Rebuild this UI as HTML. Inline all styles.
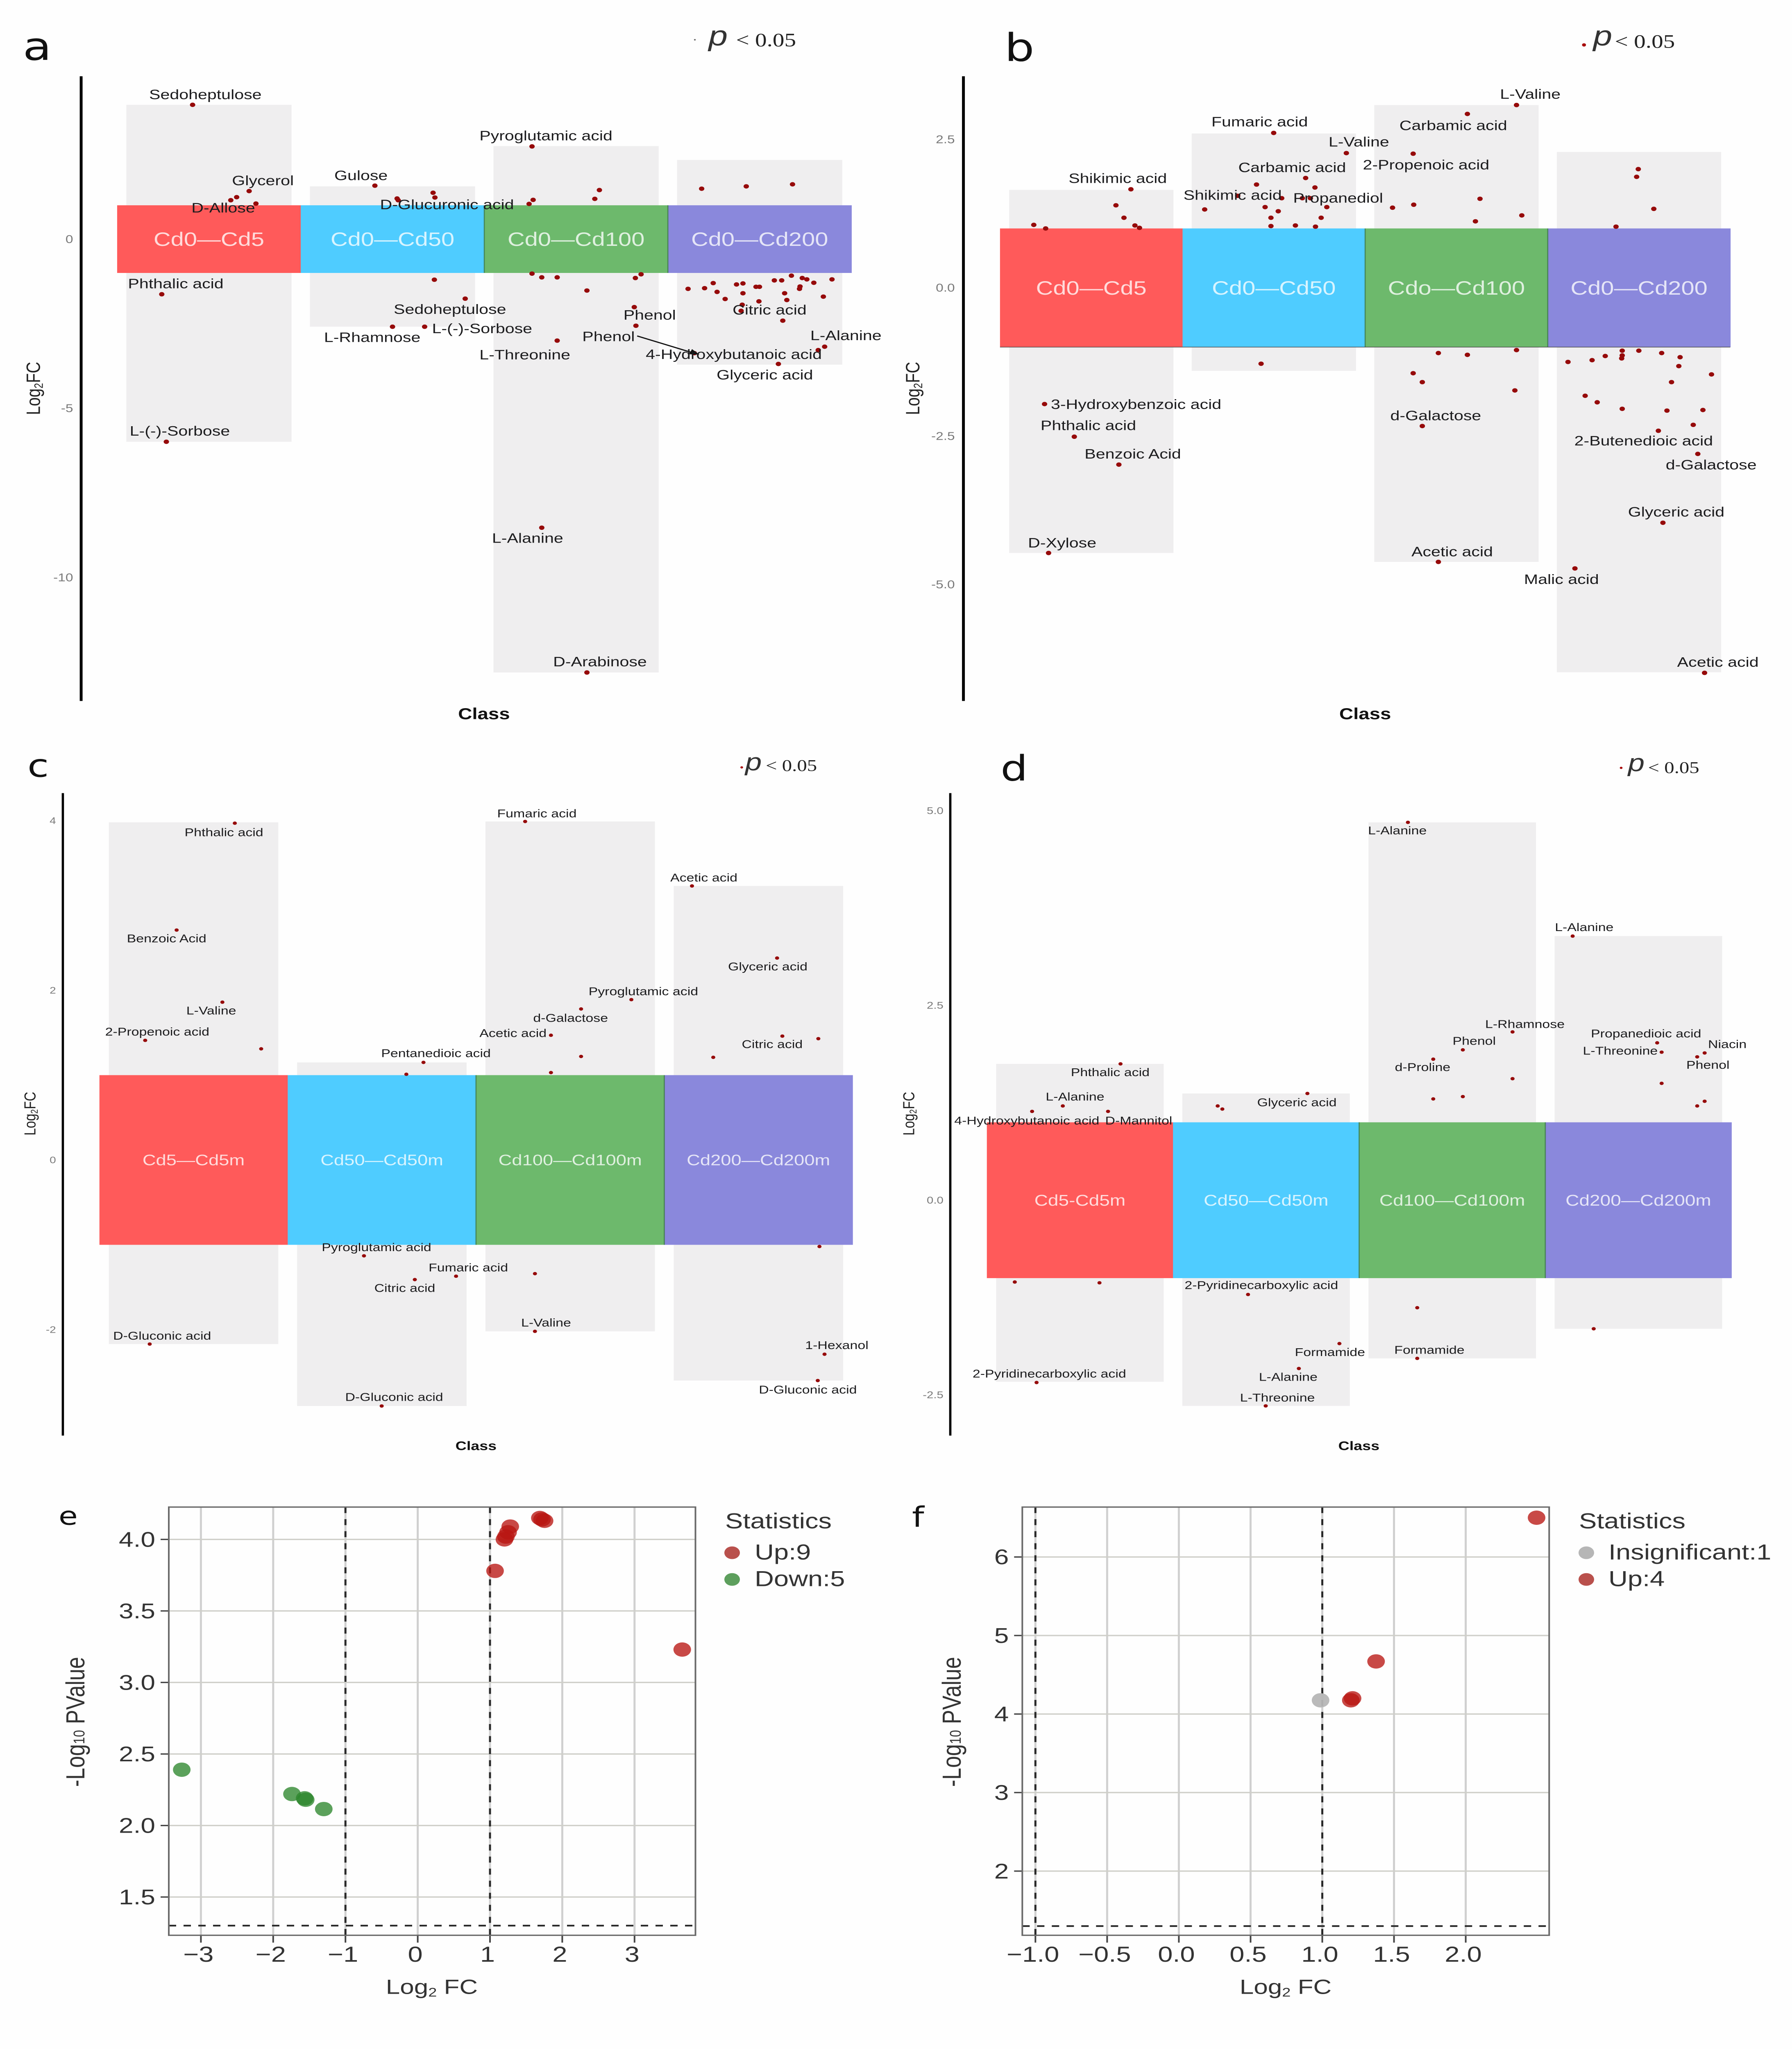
<!DOCTYPE html>
<html lang="en">
<head>
<meta charset="utf-8">
<title>Metabolite differential analysis panels</title>
<style>
html,body{margin:0;padding:0;background:#fefefe;width:100%;height:100%;overflow:hidden;}
svg{display:block;width:100%;height:100%;}
text{font-family:"Liberation Sans",sans-serif;}
.lab-ab{font-size:29.5px;fill:#1c1c1e;}
.lab-cd{font-size:24.3px;fill:#1c1c1e;}
.letter{font-family:"DejaVu Sans",sans-serif;fill:#111;}
.pv{font-family:"Liberation Serif",serif;fill:#222;}
.pi{font-style:italic;fill:#333;}
.ttl{fill:#222;}
.cls{font-weight:bold;fill:#111;}
.vt{fill:#333;}
</style>
</head>
<body>
<svg id="fig" xmlns="http://www.w3.org/2000/svg" viewBox="0 0 4374 6144" preserveAspectRatio="none">
<rect x="0" y="0" width="4374" height="6144" fill="#fefefe"/>

<g id="panel-a" transform="translate(0,0) scale(1.3948,1.4031)"></g>
<g id="panel-b" transform="translate(2187,0) scale(1.3948,1.4031)"></g>
<g id="panel-c" transform="translate(0,2200) scale(1.3948,1.4031)"></g>
<g id="panel-d" transform="translate(2187,2200) scale(1.3948,1.4031)"></g>
<g id="panel-e"></g>
<g id="panel-f"></g>

<g transform="scale(1.3948,1.4031)">
<text class="letter" x="40" y="128" font-size="82">a</text>
<circle cx="1216" cy="85" r="1.6" fill="#666"/>
<text class="pi" x="1240" y="97" font-size="60">p</text>
<text class="pv" x="1288" y="99" font-size="41">&lt; 0.05</text>
<text class="ttl" transform="translate(70,830) rotate(-90)" text-anchor="middle" font-size="34">Log<tspan font-size="21" dy="5">2</tspan><tspan dy="-5">FC</tspan></text>
<text class="cls" x="847" y="1537" text-anchor="middle" font-size="34">Class</text>
<line x1="1115" y1="718" x2="1215" y2="755" stroke="#111" stroke-width="2.5"/>
<polygon points="1224,758 1206,757 1211,746" fill="#111"/>
<g class="lab-ab">
<text x="261" y="212">Sedoheptulose</text>
<text x="406" y="396">Glycerol</text>
<text x="335" y="454">D-Allose</text>
<text x="585" y="385">Gulose</text>
<text x="665" y="447">D-Glucuronic acid</text>
<text x="839" y="300">Pyroglutamic acid</text>
<text x="224" y="616">Phthalic acid</text>
<text x="689" y="671">Sedoheptulose</text>
<text x="756" y="712">L-(-)-Sorbose</text>
<text x="567" y="731">L-Rhamnose</text>
<text x="839" y="768">L-Threonine</text>
<text x="1091" y="683">Phenol</text>
<text x="1019" y="729">Phenol</text>
<text x="1130" y="767">4-Hydroxybutanoic acid</text>
<text x="1282" y="672">Citric acid</text>
<text x="1418" y="727">L-Alanine</text>
<text x="1254" y="811">Glyceric acid</text>
<text x="227" y="931">L-(-)-Sorbose</text>
<text x="861" y="1160">L-Alanine</text>
<text x="968" y="1424">D-Arabinose</text>
</g>
</g>

<g transform="translate(2187,0) scale(1.3948,1.4031)">
<text class="letter" x="190" y="130" font-size="82">b</text>
<circle cx="1204" cy="96" r="3.5" fill="#a80a0a"/>
<text class="pi" x="1220" y="97" font-size="60">p</text>
<text class="pv" x="1258" y="102" font-size="41">&lt; 0.05</text>
<text class="ttl" transform="translate(41,830) rotate(-90)" text-anchor="middle" font-size="34">Log<tspan font-size="21" dy="5">2</tspan><tspan dy="-5">FC</tspan></text>
<text class="cls" x="821" y="1537" text-anchor="middle" font-size="34">Class</text>
<g class="lab-ab">
<text x="302" y="391">Shikimic acid</text>
<text x="552" y="270">Fumaric acid</text>
<text x="757" y="313">L-Valine</text>
<text x="599" y="368">Carbamic acid</text>
<text x="503" y="427">Shikimic acid</text>
<text x="695" y="433">Propanediol</text>
<text x="1057" y="211">L-Valine</text>
<text x="881" y="278">Carbamic acid</text>
<text x="817" y="362">2-Propenoic acid</text>
<text x="271" y="874">3-Hydroxybenzoic acid</text>
<text x="253" y="919">Phthalic acid</text>
<text x="330" y="980">Benzoic Acid</text>
<text x="231" y="1170">D-Xylose</text>
<text x="865" y="898">d-Galactose</text>
<text x="902" y="1189">Acetic acid</text>
<text x="1187" y="952">2-Butenedioic acid</text>
<text x="1347" y="1003">d-Galactose</text>
<text x="1281" y="1104">Glyceric acid</text>
<text x="1099" y="1248">Malic acid</text>
<text x="1367" y="1425">Acetic acid</text>
</g>
</g>

<g transform="translate(0,2200) scale(1.3948,1.4031)">
<text class="letter" x="48" y="92" font-size="68">c</text>
<circle cx="1298" cy="72" r="2.4" fill="#a80a0a"/>
<text class="pi" x="1304" y="78" font-size="52">p</text>
<text class="pv" x="1340" y="80" font-size="35">&lt; 0.05</text>
<text class="ttl" transform="translate(62,812) rotate(-90)" text-anchor="middle" font-size="28">Log<tspan font-size="17" dy="4">2</tspan><tspan dy="-4">FC</tspan></text>
<text class="cls" x="833" y="1531" text-anchor="middle" font-size="27">Class</text>
<g class="lab-cd">
<text x="323" y="219">Phthalic acid</text>
<text x="222" y="446">Benzoic Acid</text>
<text x="326" y="600">L-Valine</text>
<text x="184" y="645">2-Propenoic acid</text>
<text x="198" y="1295">D-Gluconic acid</text>
<text x="667" y="691">Pentanedioic acid</text>
<text x="563" y="1106">Pyroglutamic acid</text>
<text x="750" y="1149">Fumaric acid</text>
<text x="655" y="1193">Citric acid</text>
<text x="604" y="1426">D-Gluconic acid</text>
<text x="870" y="179">Fumaric acid</text>
<text x="1030" y="559">Pyroglutamic acid</text>
<text x="933" y="616">d-Galactose</text>
<text x="839" y="648">Acetic acid</text>
<text x="912" y="1267">L-Valine</text>
<text x="1173" y="316">Acetic acid</text>
<text x="1274" y="506">Glyceric acid</text>
<text x="1298" y="672">Citric acid</text>
<text x="1409" y="1315">1-Hexanol</text>
<text x="1328" y="1410">D-Gluconic acid</text>
</g>
</g>

<g transform="translate(2187,2200) scale(1.3948,1.4031)">
<text class="letter" x="183" y="100" font-size="75">d</text>
<circle cx="1269" cy="73" r="2.4" fill="#a80a0a"/>
<text class="pi" x="1281" y="80" font-size="52">p</text>
<text class="pv" x="1316" y="84" font-size="35">&lt; 0.05</text>
<text class="ttl" transform="translate(32,812) rotate(-90)" text-anchor="middle" font-size="28">Log<tspan font-size="17" dy="4">2</tspan><tspan dy="-4">FC</tspan></text>
<text class="cls" x="810" y="1531" text-anchor="middle" font-size="27">Class</text>
<g class="lab-cd">
<text x="306" y="732">Phthalic acid</text>
<text x="262" y="784">L-Alanine</text>
<text x="102" y="835">4-Hydroxybutanoic acid</text>
<text x="366" y="835">D-Mannitol</text>
<text x="134" y="1376">2-Pyridinecarboxylic acid</text>
<text x="632" y="796">Glyceric acid</text>
<text x="505" y="1187">2-Pyridinecarboxylic acid</text>
<text x="698" y="1330">Formamide</text>
<text x="635" y="1383">L-Alanine</text>
<text x="602" y="1427">L-Threonine</text>
<text x="826" y="215">L-Alanine</text>
<text x="1031" y="629">L-Rhamnose</text>
<text x="974" y="665">Phenol</text>
<text x="873" y="721">d-Proline</text>
<text x="872" y="1325">Formamide</text>
<text x="1153" y="422">L-Alanine</text>
<text x="1216" y="649">Propanedioic acid</text>
<text x="1202" y="686">L-Threonine</text>
<text x="1421" y="672">Niacin</text>
<text x="1383" y="716">Phenol</text>
</g>
</g>

<g>
<text class="letter" x="143" y="4572" font-size="76">e</text>
<text class="vt" x="1054" y="5979" text-anchor="middle" font-size="62">Log<tspan font-size="38" dy="8">2</tspan><tspan dy="-8"> FC</tspan></text>
<text class="vt" transform="translate(206,5163) rotate(-90)" text-anchor="middle" font-size="64">-Log<tspan font-size="38">10</tspan> PValue</text>
<text class="vt" x="1770" y="4583" font-size="65">Statistics</text>
<circle cx="1787" cy="4656" r="19" fill="#b9504c"/>
<text class="vt" x="1842" y="4676" font-size="65">Up:9</text>
<circle cx="1787" cy="4736" r="19" fill="#5d9f5d"/>
<text class="vt" x="1842" y="4756" font-size="65">Down:5</text>
</g>

<g>
<text class="letter" x="2226" y="4578" font-size="84">f</text>
<text class="vt" x="3138" y="5979" text-anchor="middle" font-size="62">Log<tspan font-size="38" dy="8">2</tspan><tspan dy="-8"> FC</tspan></text>
<text class="vt" transform="translate(2345,5163) rotate(-90)" text-anchor="middle" font-size="64">-Log<tspan font-size="38">10</tspan> PValue</text>
<text class="vt" x="3854" y="4583" font-size="65">Statistics</text>
<circle cx="3872" cy="4656" r="19" fill="#b6b6b6"/>
<text class="vt" x="3926" y="4676" font-size="65">Insignificant:1</text>
<circle cx="3872" cy="4736" r="19" fill="#b9504c"/>
<text class="vt" x="3926" y="4756" font-size="65">Up:4</text>
</g>
</svg>

<script>
// ---------- Panel a ----------
const aClasses = ['Cd0\u2014Cd5','Cd0\u2014Cd50','Cd0\u2014Cd100','Cd0\u2014Cd200'];
const aTickValues = [0,-5,-10];
const aTickLabels = ['0','-5','-10'];
const aBoxTop = [3.97,1.56,2.75,2.34];
const aBoxBottom = [-5.99,-2.59,-12.81,-3.71];
const aClassPos = [.411,.719,.651,.619,.756,.243,.268,
 1.404,1.525,1.531,1.721,1.731,1.728,1.896,1.500,1.675,
 2.260,2.244,2.266,2.627,2.602,2.260,2.313,2.397,2.559,2.823,2.854,2.817,2.826,2.397,2.313,2.559,
 3.184,3.427,3.679,3.110,3.200,3.247,3.268,3.312,3.374,3.409,3.409,3.480,3.499,3.496,3.405,3.399,3.580,3.620,3.673,3.636,3.648,3.626,3.717,3.720,3.732,3.757,3.795,3.847,3.894,3.854,3.819,3.602,3.144];
const aLog2FC = [3.97,1.42,1.24,1.15,1.05,-1.63,-5.99,
 1.58,1.20,1.15,1.37,1.23,-1.20,-1.76,-2.59,-2.59,
 2.74,1.04,1.16,1.45,1.19,-1.02,-1.13,-1.13,-1.52,-1.15,-1.04,-2.01,-2.56,-3.00,-8.53,-12.81,
 1.49,1.56,1.62,-1.47,-1.45,-1.30,-1.56,-1.77,-1.34,-1.31,-1.60,-1.41,-1.41,-1.84,-1.94,-2.12,-1.22,-1.22,-1.08,-1.60,-1.80,-2.41,-1.47,-1.40,-1.15,-1.19,-1.29,-1.70,-1.19,-3.18,-3.28,-3.69,-3.37];

// ---------- Panel b ----------
const bClasses = ['Cd0\u2014Cd5','Cd0\u2014Cd50','Cdo\u2014Cd100','Cd0\u2014Cd200'];
const bTickValues = [2.5,0,-2.5,-5];
const bTickLabels = ['2.5','0.0','-2.5','-5.0'];
const bBoxTop = [1.65,2.60,3.08,2.29];
const bBoxBottom = [-4.47,-1.40,-4.62,-6.48];
const bClassPos = [.717,.635,.679,.739,.764,.185,.250,.244,.407,.651,.266,
 1.499,1.897,1.674,1.405,1.725,1.121,1.543,1.302,1.656,1.700,1.452,1.790,1.524,1.484,1.759,1.484,1.618,1.728,1.430,
 2.829,2.560,2.263,2.629,2.266,2.150,2.858,2.604,2.401,2.560,2.829,2.263,2.313,2.820,2.313,2.401,
 3.496,3.487,3.581,3.374,3.111,3.243,3.315,3.408,3.408,3.405,3.499,3.624,3.725,3.718,3.897,3.678,3.205,3.271,3.408,3.653,3.850,3.606,3.797,3.822,3.631,3.149,3.859];
const bLog2FC = [1.66,1.39,1.18,1.05,1.01,1.06,1.00,-1.96,-2.51,-2.98,-4.47,
 2.61,2.27,1.85,1.74,1.69,1.32,1.51,1.55,1.51,1.51,1.36,1.36,1.29,1.18,1.18,1.04,1.05,1.03,-1.28,
 3.08,2.93,2.26,1.50,1.40,1.35,1.22,1.12,-1.10,-1.13,-1.05,-1.44,-1.59,-1.73,-2.33,-4.62,
 2.00,1.87,1.33,1.03,-1.25,-1.22,-1.15,-1.06,-1.14,-1.19,-1.06,-1.10,-1.17,-1.32,-1.46,-1.59,-1.82,-1.93,-2.04,-2.07,-2.06,-2.41,-2.31,-2.80,-3.96,-4.73,-6.49];

// ---------- Panel c ----------
const cClasses = ['Cd5\u2014Cd5m','Cd50\u2014Cd50m','Cd100\u2014Cd100m','Cd200\u2014Cd200m'];
const cTickValues = [4,2,0,-2];
const cTickLabels = ['4','2','0','-2'];
const cBoxTop = [3.98,1.15,3.99,3.23];
const cBoxBottom = [-2.17,-2.90,-2.02,-2.60];
const cClassPos = [.719,.410,.653,.243,.859,.267,
 1.721,1.630,1.405,1.675,1.894,1.499,
 2.261,2.825,2.558,2.398,2.558,2.398,2.313,2.313,
 3.147,3.599,3.627,3.818,3.260,3.824,3.851,3.815];
const cLog2FC = [3.97,2.71,1.86,1.41,1.31,-2.17,
 1.15,1.01,-1.13,-1.41,-1.37,-2.90,
 3.99,1.89,1.78,1.47,1.22,1.03,-1.34,-2.02,
 3.23,2.38,1.46,1.43,1.21,-1.02,-2.29,-2.60];

// ---------- Panel d ----------
const dClasses = ['Cd5-Cd5m','Cd50\u2014Cd50m','Cd100\u2014Cd100m','Cd200\u2014Cd200m'];
const dTickValues = [5,2.5,0,-2.5];
const dTickLabels = ['5.0','2.5','0.0','-2.5'];
const dBoxTop = [1.75,1.37,4.85,3.39];
const dBoxBottom = [-2.33,-2.64,-2.03,-1.65];
const dClassPos = [.718,.408,.243,.651,.150,.605,.267,
 1.722,1.240,1.265,1.403,1.894,1.676,1.498,
 2.262,2.824,2.557,2.398,2.824,2.557,2.398,2.312,2.312,
 3.147,3.601,3.625,3.856,3.816,3.625,3.856,3.816,3.260];
const dLog2FC = [1.75,1.21,1.14,1.14,-1.05,-1.06,-2.34,
 1.37,1.21,1.17,-1.21,-1.84,-2.16,-2.64,
 4.85,2.16,1.93,1.81,1.56,1.33,1.30,-1.38,-2.03,
 3.39,2.02,1.90,1.89,1.84,1.50,1.27,1.21,-1.65];

// ---------- Panel e ----------
const eXTicks = [-3,-2,-1,0,1,2,3];
const eXTickLabels = ['\u22123','\u22122','\u22121','0','1','2','3'];
const eYTicks = [4,3.5,3,2.5,2,1.5];
const eYTickLabels = ['4.0','3.5','3.0','2.5','2.0','1.5'];
const eUpFC = [3.66,1.07,1.20,1.22,1.25,1.28,1.69,1.72,1.755];
const eUpP = [3.23,3.78,4.00,4.02,4.05,4.09,4.15,4.14,4.13];
const eDownFC = [-3.265,-1.74,-1.565,-1.55,-1.30];
const eDownP = [2.39,2.22,2.19,2.18,2.115];

// ---------- Panel f ----------
const fXTicks = [-1,-0.5,0,0.5,1,1.5,2];
const fXTickLabels = ['\u22121.0','\u22120.5','0.0','0.5','1.0','1.5','2.0'];
const fYTicks = [6,5,4,3,2];
const fYTickLabels = ['6','5','4','3','2'];
const fUpFC = [2.494,1.375,1.211,1.199];
const fUpP = [6.50,4.67,4.20,4.175];
const fInsigFC = [0.988];
const fInsigP = [4.175];

const SVGNS = 'http://www.w3.org/2000/svg';
function make(parent, tag, attrs){
  const n = document.createElementNS(SVGNS, tag);
  for (const k in attrs) n.setAttribute(k, attrs[k]);
  parent.appendChild(n);
  return n;
}
const bandColors = ['#ff5a5a','#4fccff','#6db96c','#8a88dc'];

function drawClassPanel(id, classes, tickVals, tickLabs, boxTop, boxBottom, pos, fc, L){
  const g = document.getElementById(id);
  const x = p => L.x0 + p * L.w;
  const y = v => L.y0 - v * L.k;

  const axis = make(g, 'line', {x1:L.axisX, x2:L.axisX, y1:L.axisTop, y2:L.axisBottom, stroke:'#000', 'stroke-width':L.axisW});
  
  

  tickVals.forEach((v, i) => {
    const t = make(g, 'text', {x:L.tickX, y:y(v) + L.tickFont * 0.34, 'text-anchor':'end', 'font-size':L.tickFont, fill:'#7a7a7a'});
    t.textContent = tickLabs[i];
    
    
  });

  classes.forEach((c, i) => {
    const box = make(g, 'rect', {x:x(i + 0.05), width:L.w * 0.9, y:y(boxTop[i]), height:y(boxBottom[i]) - y(boxTop[i]), fill:'#efeeef'});
    
    
  });

  classes.forEach((c, i) => {
    const band = make(g, 'rect', {x:x(i), width:L.w + 0.5, y:y(1), height:y(-1) - y(1), fill:bandColors[i]});
    
    
  });

  [2,3].forEach(i => {
    const sep = make(g, 'line', {x1:x(i), x2:x(i), y1:y(1), y2:y(-1), stroke:'#3f7a4a', 'stroke-width':2, 'stroke-opacity':0.8});
    
    
  });

  if (L.bandLine) {
    const bl = make(g, 'line', {x1:x(0), x2:x(4), y1:y(-1), y2:y(-1), stroke:'#444', 'stroke-width':1.6, 'stroke-opacity':0.8});
    
    
  }

  classes.forEach((c, i) => {
    const t = make(g, 'text', {x:x(i + 0.5), y:y(0) + L.bandFont * 0.35, 'text-anchor':'middle', 'font-size':L.bandFont, fill:'#ffffff', 'fill-opacity':0.78});
    t.textContent = c;
    
    
  });

  pos.forEach((p, i) => {
    const d = make(g, 'circle', {cx:x(p), cy:y(fc[i]), r:L.dot, fill:'#960a0a'});
    
    
  });
}

drawClassPanel('panel-a', aClasses, aTickValues, aTickLabels, aBoxTop, aBoxBottom, aClassPos, aLog2FC,
  {x0:205, w:321.25, y0:511, k:72.3, axisX:142, axisTop:163, axisBottom:1498, axisW:5, tickX:128, tickFont:24, bandFont:41.5, dot:4.7, bandLine:false});
drawClassPanel('panel-b', bClasses, bTickValues, bTickLabels, bBoxTop, bBoxBottom, bClassPos, bLog2FC,
  {x0:182, w:319.5, y0:615, k:126.8, axisX:118, axisTop:163, axisBottom:1498, axisW:5, tickX:103, tickFont:24, bandFont:41.5, dot:4.7, bandLine:true});
drawClassPanel('panel-c', cClasses, cTickValues, cTickLabels, cBoxTop, cBoxBottom, cClassPos, cLog2FC,
  {x0:174, w:329.5, y0:911, k:181.3, axisX:110, axisTop:127, axisBottom:1500, axisW:4, tickX:98, tickFont:20, bandFont:32.5, dot:3.6, bandLine:false});
drawClassPanel('panel-d', dClasses, dTickValues, dTickLabels, dBoxTop, dBoxBottom, dClassPos, dLog2FC,
  {x0:159, w:325.75, y0:997, k:166.5, axisX:95, axisTop:127, axisBottom:1500, axisW:4, tickX:83, tickFont:21, bandFont:33, dot:3.6, bandLine:false});

function drawVolcano(id, L, xTicks, xLabs, yTicks, yLabs, dashX, series){
  const g = document.getElementById(id);
  const x = v => L.xZero + v * L.xK;
  const y = v => L.yRef - (v - L.yRefVal) * L.yK;

  xTicks.forEach((v, i) => {
    const gl = make(g, 'line', {x1:x(v), x2:x(v), y1:L.top, y2:L.bottom, stroke:'#d0d0d0', 'stroke-width':5});
    
    
    const tk = make(g, 'line', {x1:x(v), x2:x(v), y1:L.bottom, y2:L.bottom + 22, stroke:'#444', 'stroke-width':4});
    
    
    const t = make(g, 'text', {x:x(v) - 6, y:L.bottom + 79, 'text-anchor':'middle', 'font-size':65, fill:'#333'});
    t.textContent = xLabs[i];
    
    
  });
  yTicks.forEach((v, i) => {
    const gl = make(g, 'line', {x1:L.left, x2:L.right, y1:y(v), y2:y(v), stroke:'#cfcfc9', 'stroke-width':4});
    
    
    const tk = make(g, 'line', {x1:L.left - 20, x2:L.left, y1:y(v), y2:y(v), stroke:'#444', 'stroke-width':4});
    
    
    const t = make(g, 'text', {x:L.left - 33, y:y(v) + 22, 'text-anchor':'end', 'font-size':64, fill:'#333'});
    t.textContent = yLabs[i];
    
    
  });

  dashX.forEach(v => {
    const dl = make(g, 'line', {x1:x(v), x2:x(v), y1:L.top, y2:L.bottom, stroke:'#2a2a2a', 'stroke-width':5, 'stroke-dasharray':'18 18.14'});
    
    
  });
  const hd = make(g, 'line', {x1:L.left, x2:L.right, y1:y(1.3), y2:y(1.3), stroke:'#2a2a2a', 'stroke-width':5, 'stroke-dasharray':'18 18'});
  
  

  const fr = make(g, 'rect', {x:L.left, y:L.top, width:L.right - L.left, height:L.bottom - L.top, fill:'none', stroke:'#6a6a6a', 'stroke-width':4});
  
  

  series.forEach(s => {
    s.fc.forEach((v, i) => {
      const c = make(g, 'circle', {cx:x(v), cy:y(s.p[i]), r:21.5, fill:s.color, 'fill-opacity':s.alpha});
      
      
    });
  });
}

drawVolcano('panel-e',
  {left:412, right:1697.5, top:4519, bottom:5803, xZero:1019.6, xK:176.4, yRef:4616, yRefVal:4, yK:428.9},
  eXTicks, eXTickLabels, eYTicks, eYTickLabels, [-1,1],
  [{fc:eUpFC, p:eUpP, color:'rgb(185,22,18)', alpha:0.78, name:'up-point'},
   {fc:eDownFC, p:eDownP, color:'rgb(45,135,45)', alpha:0.78, name:'down-point'}]);

drawVolcano('panel-f',
  {left:2495.3, right:3781.3, top:4519, bottom:5803, xZero:2877.4, xK:350.1, yRef:5139.6, yRefVal:4, yK:235.5},
  fXTicks, fXTickLabels, fYTicks, fYTickLabels, [-1,1],
  [{fc:fInsigFC, p:fInsigP, color:'#b6b6b6', alpha:0.95, name:'insignificant-point'},
   {fc:fUpFC, p:fUpP, color:'rgb(185,22,18)', alpha:0.78, name:'up-point'}]);
</script>
</body>
</html>
